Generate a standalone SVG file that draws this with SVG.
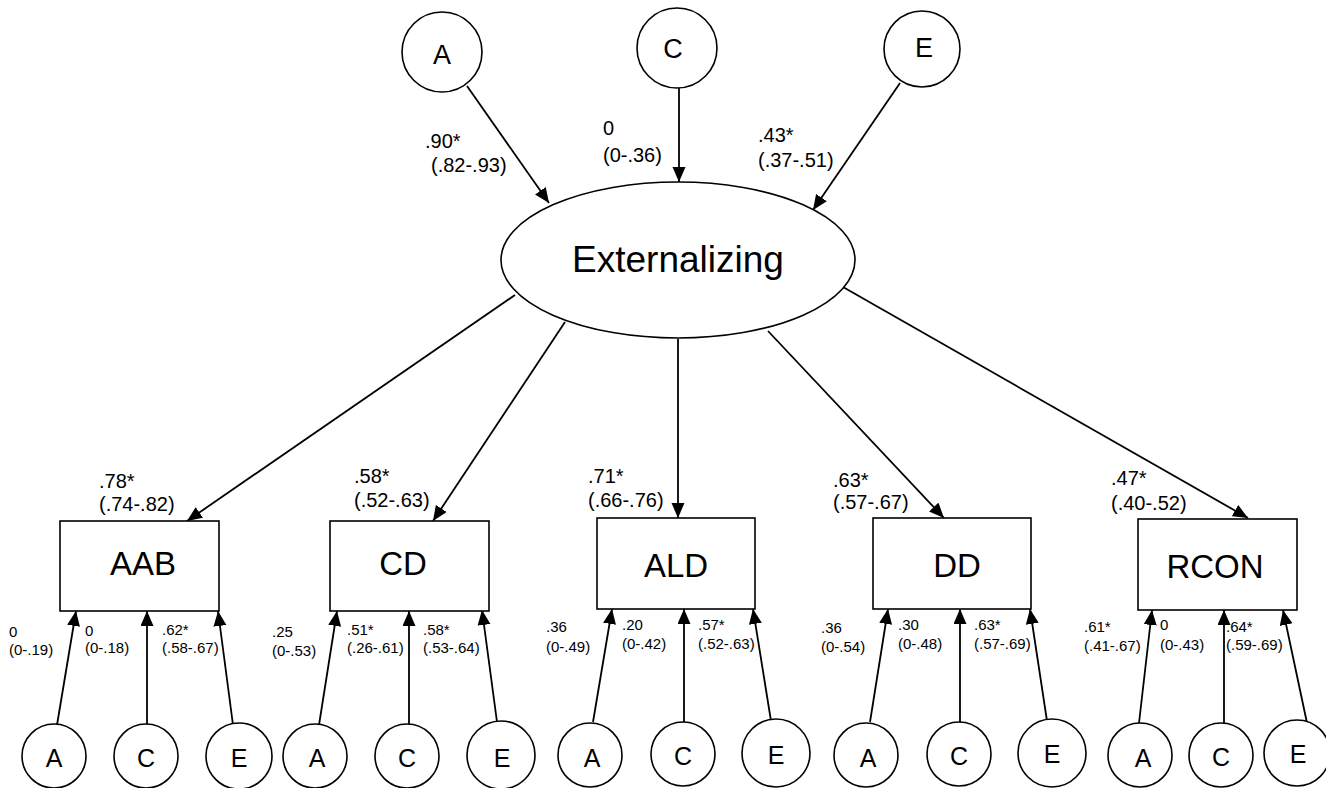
<svg xmlns="http://www.w3.org/2000/svg" width="1326" height="788" viewBox="0 0 1326 788">
<defs>
<marker id="ah" markerUnits="userSpaceOnUse" markerWidth="16" markerHeight="14" refX="15" refY="6.5" orient="auto">
<path d="M0,0 L15,6.5 L0,13 z" fill="#000"/>
</marker>
<style>
.n{fill:#fff;stroke:#000;stroke-width:1.6}
.t{font-family:"Liberation Sans",Arial,sans-serif;fill:#000}
.big{font-size:37px;text-anchor:middle}
.box{font-size:33px;text-anchor:middle}
.ct{font-size:27px;text-anchor:middle}
.cb{font-size:25px;text-anchor:middle}
.lt{font-size:20px}
.lb{font-size:15px}
.e line{stroke:#000;stroke-width:1.8;marker-end:url(#ah)}
</style>
</defs>
<rect width="1326" height="788" fill="#fff"/>
<g class="e" id="connectors">
<line x1="467" y1="86" x2="549" y2="203"/>
<line x1="679" y1="88" x2="679" y2="182"/>
<line x1="900" y1="83" x2="813" y2="210"/>
<line x1="515" y1="295" x2="187" y2="521"/>
<line x1="565" y1="322" x2="433" y2="521"/>
<line x1="678" y1="339" x2="678" y2="518"/>
<line x1="768" y1="331" x2="944" y2="518"/>
<line x1="843" y1="287" x2="1248" y2="518"/>
<line x1="57" y1="725" x2="76" y2="611"/>
<line x1="147" y1="725" x2="147" y2="611"/>
<line x1="233" y1="725" x2="218" y2="611"/>
<line x1="319" y1="725" x2="337" y2="611"/>
<line x1="409" y1="725" x2="409" y2="611"/>
<line x1="497" y1="722" x2="482" y2="610"/>
<line x1="593" y1="722" x2="612" y2="609"/>
<line x1="684" y1="722" x2="684" y2="609"/>
<line x1="771" y1="721" x2="753" y2="609"/>
<line x1="870" y1="722" x2="888" y2="609"/>
<line x1="960" y1="722" x2="960" y2="609"/>
<line x1="1047" y1="721" x2="1030" y2="609"/>
<line x1="1139" y1="723" x2="1152" y2="610"/>
<line x1="1224" y1="723" x2="1224" y2="610"/>
<line x1="1307" y1="723" x2="1283" y2="610"/>
</g>
<g id="topA"><circle class="n" cx="442" cy="52" r="40"/><text class="t ct" x="442" y="64">A</text></g>
<g id="topC"><circle class="n" cx="677" cy="48" r="40"/><text class="t ct" x="673" y="58">C</text></g>
<g id="topE"><circle class="n" cx="922" cy="49" r="38"/><text class="t ct" x="924" y="57">E</text></g>
<g id="externalizing"><ellipse class="n" cx="678" cy="260" rx="177" ry="78"/><text class="t big" x="678" y="272">Externalizing</text></g>
<g id="aab"><rect class="n" x="60" y="521" width="159" height="90"/><text class="t box" x="143" y="575">AAB</text></g>
<g id="cd"><rect class="n" x="330" y="521" width="159" height="90"/><text class="t box" x="403" y="575">CD</text></g>
<g id="ald"><rect class="n" x="597" y="518" width="158" height="91"/><text class="t box" x="676" y="577">ALD</text></g>
<g id="dd"><rect class="n" x="873" y="518" width="158" height="91"/><text class="t box" x="957" y="577">DD</text></g>
<g id="rcon"><rect class="n" x="1138" y="519" width="159" height="91"/><text class="t box" x="1215" y="578">RCON</text></g>
<g id="aabA"><circle class="n" cx="54" cy="756" r="32"/><text class="t cb" x="54" y="767">A</text></g>
<g id="aabC"><circle class="n" cx="146" cy="756" r="32"/><text class="t cb" x="146" y="767">C</text></g>
<g id="aabE"><circle class="n" cx="239" cy="756" r="33"/><text class="t cb" x="239" y="767">E</text></g>
<g id="cdA"><circle class="n" cx="315" cy="756" r="32"/><text class="t cb" x="317" y="767">A</text></g>
<g id="cdC"><circle class="n" cx="407" cy="756" r="32"/><text class="t cb" x="407" y="767">C</text></g>
<g id="cdE"><circle class="n" cx="501" cy="755" r="34"/><text class="t cb" x="502" y="767">E</text></g>
<g id="aldA"><circle class="n" cx="590" cy="755" r="32"/><text class="t cb" x="592" y="767">A</text></g>
<g id="aldC"><circle class="n" cx="683" cy="754" r="32"/><text class="t cb" x="683" y="765">C</text></g>
<g id="aldE"><circle class="n" cx="776" cy="753" r="34"/><text class="t cb" x="776" y="764">E</text></g>
<g id="ddA"><circle class="n" cx="866" cy="755" r="32"/><text class="t cb" x="868" y="767">A</text></g>
<g id="ddC"><circle class="n" cx="959" cy="754" r="32"/><text class="t cb" x="959" y="765">C</text></g>
<g id="ddE"><circle class="n" cx="1052" cy="753" r="34"/><text class="t cb" x="1052" y="763">E</text></g>
<g id="rconA"><circle class="n" cx="1140" cy="755" r="32"/><text class="t cb" x="1143" y="767">A</text></g>
<g id="rconC"><circle class="n" cx="1221" cy="755" r="32"/><text class="t cb" x="1221" y="766">C</text></g>
<g id="rconE"><circle class="n" cx="1297" cy="753" r="33"/><text class="t cb" x="1298" y="763">E</text></g>
<g id="labels" class="t">
<text class="lt" x="425" y="148">.90*</text><text class="lt" x="431" y="172">(.82-.93)</text>
<text class="lt" x="603" y="135">0</text><text class="lt" x="603" y="162">(0-.36)</text>
<text class="lt" x="758" y="142">.43*</text><text class="lt" x="758" y="167">(.37-.51)</text>
<text class="lt" x="99" y="488">.78*</text><text class="lt" x="99" y="511">(.74-.82)</text>
<text class="lt" x="354" y="483">.58*</text><text class="lt" x="354" y="507">(.52-.63)</text>
<text class="lt" x="588" y="483">.71*</text><text class="lt" x="588" y="507">(.66-.76)</text>
<text class="lt" x="833" y="487">.63*</text><text class="lt" x="833" y="509">(.57-.67)</text>
<text class="lt" x="1111" y="485">.47*</text><text class="lt" x="1111" y="510">(.40-.52)</text>
<text class="lb" x="9" y="637">0</text><text class="lb" x="9" y="655">(0-.19)</text>
<text class="lb" x="85" y="636">0</text><text class="lb" x="85" y="653">(0-.18)</text>
<text class="lb" x="162" y="635">.62*</text><text class="lb" x="162" y="653">(.58-.67)</text>
<text class="lb" x="272" y="637">.25</text><text class="lb" x="272" y="656">(0-.53)</text>
<text class="lb" x="347" y="635">.51*</text><text class="lb" x="347" y="653">(.26-.61)</text>
<text class="lb" x="423" y="635">.58*</text><text class="lb" x="423" y="653">(.53-.64)</text>
<text class="lb" x="546" y="632">.36</text><text class="lb" x="546" y="652">(0-.49)</text>
<text class="lb" x="622" y="630">.20</text><text class="lb" x="622" y="649">(0-.42)</text>
<text class="lb" x="698" y="630">.57*</text><text class="lb" x="698" y="649">(.52-.63)</text>
<text class="lb" x="821" y="633">.36</text><text class="lb" x="821" y="652">(0-.54)</text>
<text class="lb" x="898" y="630">.30</text><text class="lb" x="898" y="649">(0-.48)</text>
<text class="lb" x="974" y="630">.63*</text><text class="lb" x="974" y="649">(.57-.69)</text>
<text class="lb" x="1084" y="632">.61*</text><text class="lb" x="1084" y="651">(.41-.67)</text>
<text class="lb" x="1160" y="630">0</text><text class="lb" x="1160" y="650">(0-.43)</text>
<text class="lb" x="1226" y="632">.64*</text><text class="lb" x="1226" y="650">(.59-.69)</text>
</g>
</svg>
